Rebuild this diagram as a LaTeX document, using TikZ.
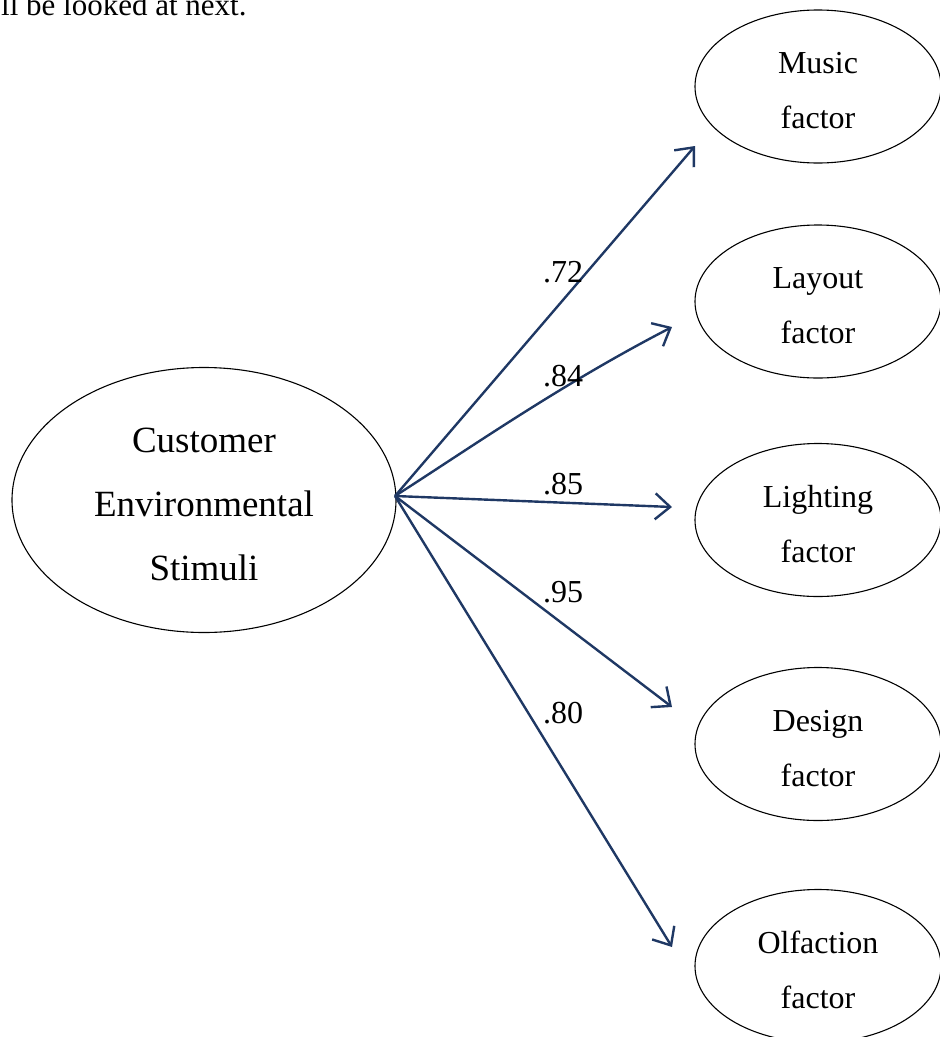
\documentclass[tikz,border=0pt]{standalone}
\usepackage{fontspec}
\setmainfont{Liberation Serif}
\usetikzlibrary{shapes.geometric,arrows.meta}
\definecolor{pathblue}{HTML}{1F3864}
% a strut that lowers the first line of an ellipse label
\newcommand{\toplift}[1]{\rule{0pt}{#1}}
\begin{document}
\begin{tikzpicture}[x=1pt,y=-1pt,
  factorbox/.style={ellipse,draw=black,line width=1.1pt,inner sep=0pt,
    minimum width=246pt,minimum height=153pt,align=center,
    font=\fontsize{32}{55}\selectfont},
  latentbox/.style={ellipse,draw=black,line width=1.1pt,inner sep=0pt,
    minimum width=384pt,minimum height=265pt,align=center,
    font=\fontsize{37}{64}\selectfont},
  loading/.style={draw=pathblue,line width=2.4pt,
    -{Straight Barb[length=15pt,width=26pt,line width=2.4pt]}},
  coef/.style={anchor=base,inner sep=0pt,font=\fontsize{32}{38}\selectfont}]
\useasboundingbox (0,0) rectangle (940,1037);

% running text above the figure
\node[anchor=base west,inner sep=0pt,font=\fontsize{31}{38}\selectfont] (runin) at (1,15) {ll be looked at next.};

% latent construct
\node[latentbox] (ces) at (204,500) {\toplift{34pt}Customer\\Environmental\\Stimuli};

% observed factors
\node[factorbox] (music)  at (818,86.5) {\toplift{30pt}Music\\factor};
\node[factorbox] (layout) at (818,301.5) {\toplift{30pt}Layout\\factor};
\node[factorbox] (light)  at (818,520) {\toplift{30pt}Lighting\\factor};
\node[factorbox] (design) at (818,744) {\toplift{30pt}Design\\factor};
\node[factorbox] (olf)    at (818,966) {\toplift{30pt}Olfaction\\factor};

% arrow tips in front of each factor
\coordinate (src) at (395,496);
\coordinate (tmusic)  at (695,146);
\coordinate (tlayout) at (672,327);
\coordinate (tlight)  at (672,507);
\coordinate (tdesign) at (672,707);
\coordinate (tolf)    at (672,947);

\draw[loading] (src) -- (tmusic);
\draw[loading] (src) .. controls (470,448) and (560,385) .. (tlayout);
\draw[loading] (src) -- (tlight);
\draw[loading] (src) -- (tdesign);
\draw[loading] (src) -- (tolf);

% standardised loadings
\node[coef] (l1) at (563,282) {.72};
\node[coef] (l2) at (563,386) {.84};
\node[coef] (l3) at (563,494) {.85};
\node[coef] (l4) at (563,602) {.95};
\node[coef] (l5) at (563,723) {.80};
\end{tikzpicture}
\end{document}
